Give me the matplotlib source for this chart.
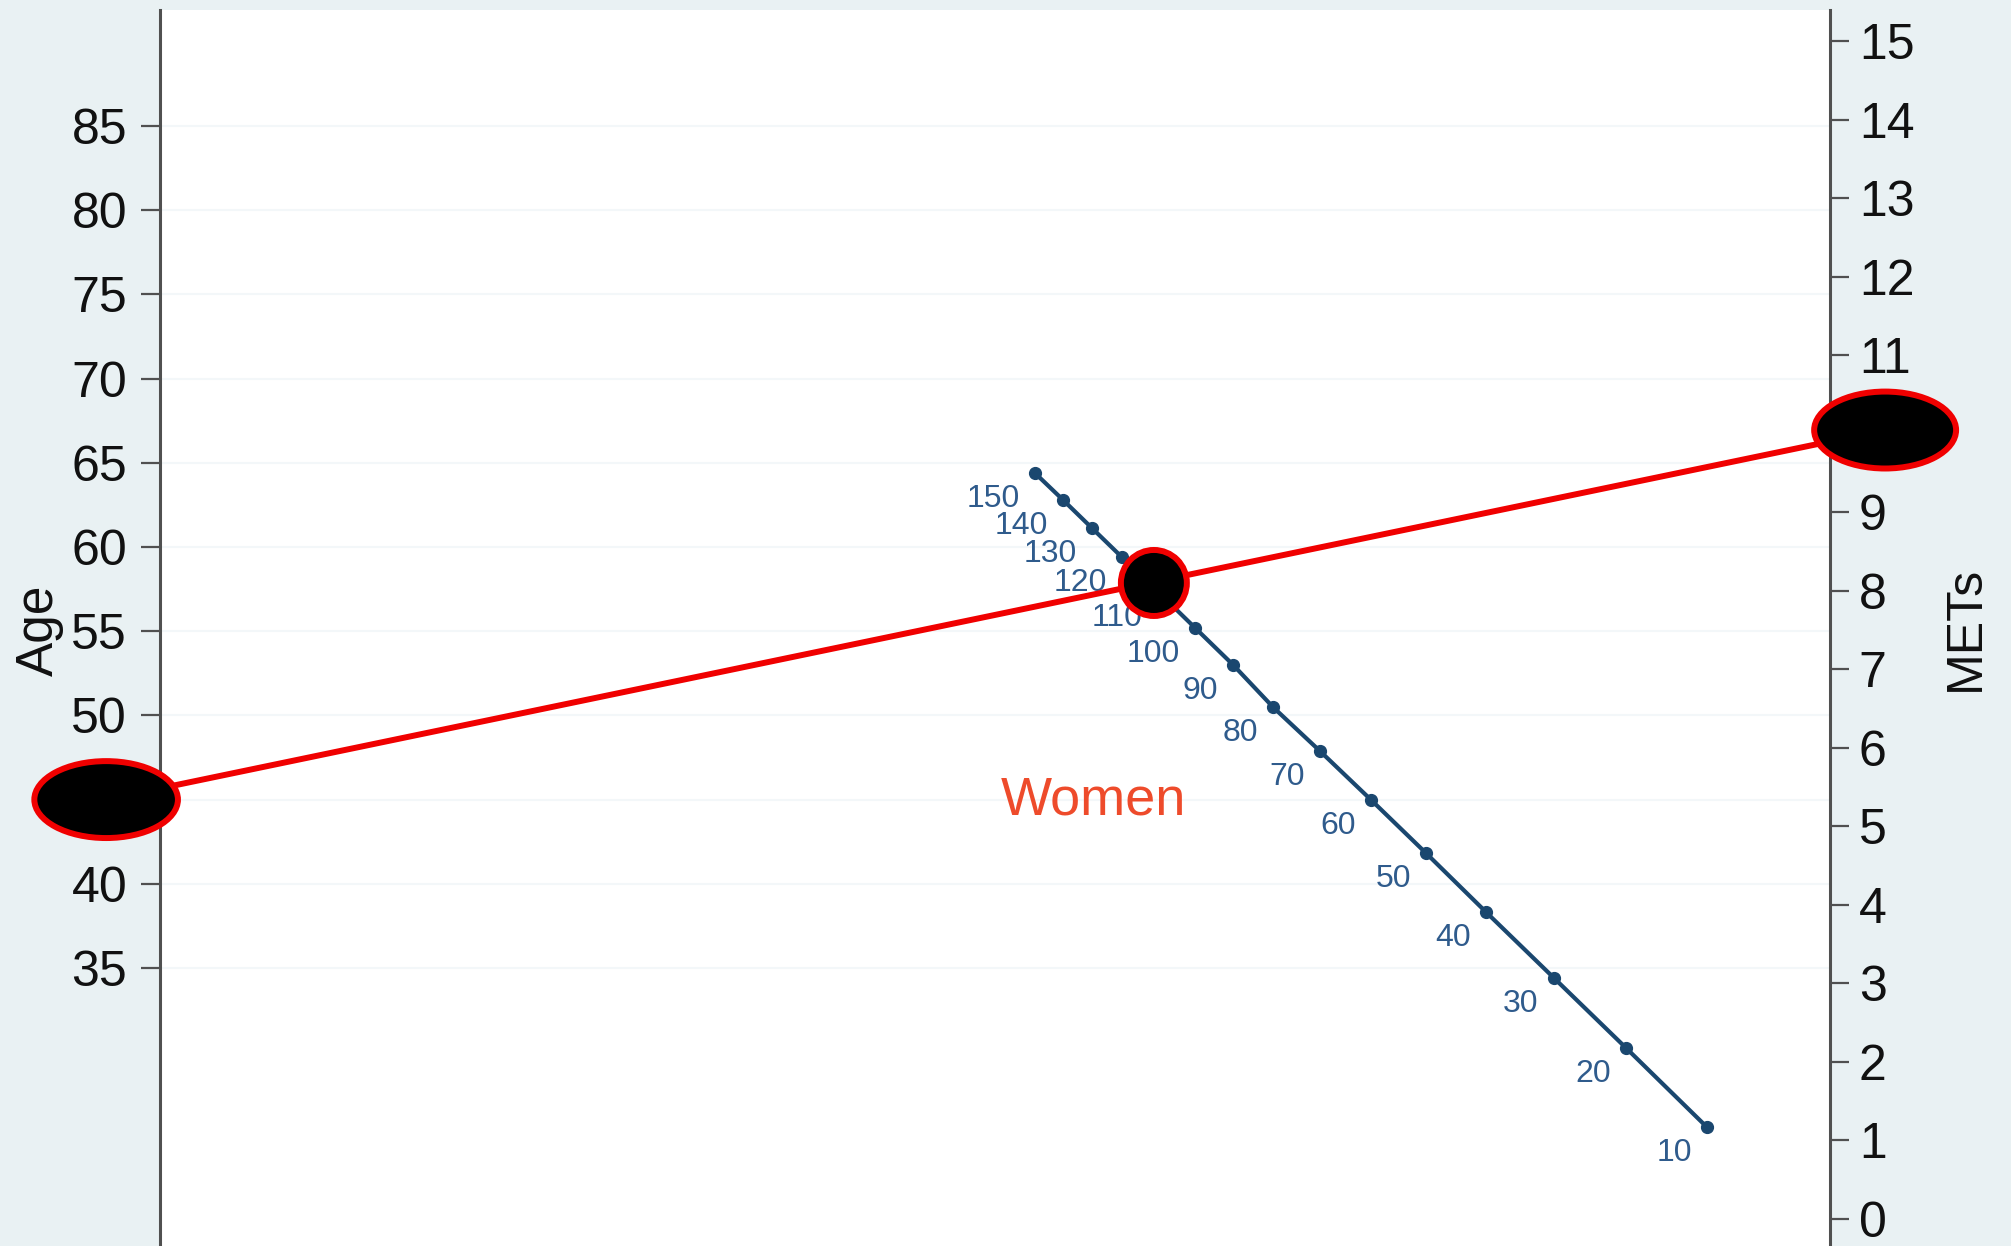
import matplotlib
matplotlib.use("Agg")
import matplotlib.pyplot as plt
from matplotlib.patches import Ellipse
import numpy as np

plt.rcParams['font.family'] = ['Liberation Sans', 'DejaVu Sans']

# middle scale of the nomogram
# x = horizontal position (0 = Age axis, 100 = METs axis), y on the METs scale
node_values = [150, 140, 130, 120, 110, 100, 90, 80, 70, 60, 50, 40, 30, 20, 10]
node_x = [52.40, 54.07, 55.81, 57.60, 59.76, 61.98, 64.25, 66.65,
          69.46, 72.51, 75.81, 79.40, 83.47, 87.78, 92.63]
node_mets = [9.50, 9.16, 8.80, 8.43, 7.99, 7.53, 7.06, 6.52,
             5.96, 5.34, 4.66, 3.91, 3.07, 2.18, 1.17]

age_ticks = [35, 40, 45, 50, 55, 60, 65, 70, 75, 80, 85]
mets_ticks = list(range(0, 16))

# example patient
subject_age = 45
subject_mets = 10.05

navy = '#1a476f'
red = '#f00000'

fig = plt.figure(figsize=(20.11, 12.46), dpi=100, facecolor='#e9f1f3')
ax = fig.add_axes([0.0796, 0.0, 0.8304, 0.992])
ax.set_facecolor('white')
ax.set_xlim(0, 100)
ax.set_ylim(18.49, 91.89)
ax.set_yticks(age_ticks)
ax.set_axisbelow(True)
ax.grid(axis='y', color='#f3f7f9', linewidth=1.5)
ax.tick_params(axis='x', bottom=False, labelbottom=False)
ax.tick_params(axis='y', labelsize=36, length=13.7, width=1.6, pad=10,
               color='#505050', labelcolor='#111111')
for s in ['top', 'bottom', 'right']:
    ax.spines[s].set_visible(False)
ax.spines['left'].set_color('#505050')
ax.spines['left'].set_linewidth(2.2)

ax2 = ax.twinx()
ax2.set_ylim(-0.344, 15.401)
ax2.set_yticks(mets_ticks)
ax2.tick_params(axis='y', labelsize=36, length=13.7, width=1.6, pad=7,
                color='#505050', labelcolor='#111111')
for s in ['top', 'bottom', 'left']:
    ax2.spines[s].set_visible(False)
ax2.spines['right'].set_color('#505050')
ax2.spines['right'].set_linewidth(2.2)


def age_to_mets(a):
    a0, a1 = ax.get_ylim()
    m0, m1 = ax2.get_ylim()
    return m0 + (a - a0) / (a1 - a0) * (m1 - m0)


# nomogram scale
ax2.plot(node_x, node_mets, color=navy, linewidth=3, marker='o',
         markersize=8.5, zorder=3)
for v, x, y in zip(node_values, node_x, node_mets):
    ax2.annotate(str(v), (x, y), xytext=(-11, -8), textcoords='offset points',
                 ha='right', va='top', fontsize=23, color='#2f5b8c', zorder=3)

ax2.text(55.87, 5.33, 'Women', fontsize=39, color='#ee4b2b',
         ha='center', va='center')

# line from age to METs
xl, yl = -3.23, age_to_mets(subject_age)
xr, yr = 103.3, subject_mets
ax2.plot([xl, xr], [yl, yr], color=red, linewidth=4.3, zorder=4,
         clip_on=False)

# crossing point with the middle scale
nx = np.array(node_x)
ny = np.array(node_mets)
slope = (yr - yl) / (xr - xl)
d = ny - (yl + slope * (nx - xl))
i = np.where(np.sign(d[:-1]) != np.sign(d[1:]))[0][0]
t = d[i] / (d[i] - d[i + 1])
cx = nx[i] + t * (nx[i + 1] - nx[i])
cy = ny[i] + t * (ny[i + 1] - ny[i])

for (ex, ey, w, h) in [(xl, yl, 8.6, 0.98), (xr, yr, 8.5, 0.98),
                       (cx + 0.3, cy, 3.95, 0.841)]:
    ax2.add_patch(Ellipse((ex, ey), w, h, facecolor='black', edgecolor=red,
                          linewidth=4.3, zorder=6, clip_on=False))

fig.text(39 / 2011, 1 - 630 / 1246, 'Age', rotation=90, fontsize=37,
         ha='center', va='center', color='#111111')
fig.text(1966 / 2011, 1 - 628 / 1246, 'METs', rotation=90, fontsize=36,
         ha='center', va='center', color='#111111')

fig.savefig('out.png', dpi=100, facecolor=fig.get_facecolor())
